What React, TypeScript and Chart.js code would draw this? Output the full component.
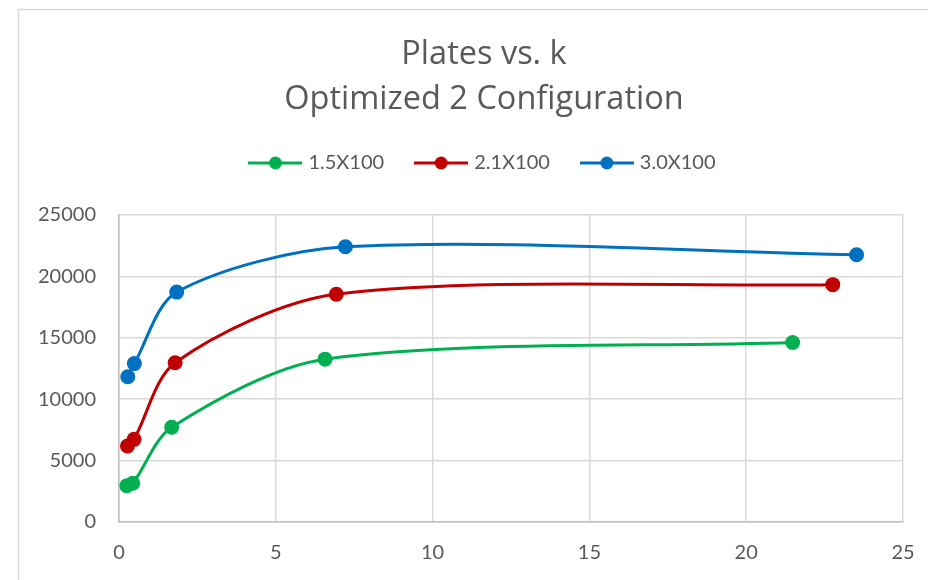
import React, { useEffect, useRef } from "react";
import { Chart, registerables } from "chart.js";

Chart.register(...registerables);

const seriesNames = ["1.5X100", "2.1X100", "3.0X100"];
const seriesColors = ["#00B050", "#C00000", "#0070C0"];

const k15 = [0.25, 0.44, 1.68, 6.57, 21.48];
const plates15 = [2950, 3150, 7710, 13260, 14620];
const k21 = [0.27, 0.48, 1.79, 6.93, 22.76];
const plates21 = [6190, 6730, 12970, 18550, 19330];
const k30 = [0.28, 0.49, 1.84, 7.22, 23.52];
const plates30 = [11830, 12900, 18720, 22410, 21760];

const titleLines = ["Plates vs. k", "Optimized 2 Configuration"];
const xTicksMax = 25;
const yTicksMax = 25000;

const FONT = "Lato";
const TITLE_FONT = "Open Sans";
const TEXT = "#595959";
const CANVAS_W = 968;
const CANVAS_H = 580;

function legendImage(color: string) {
  const c = document.createElement("canvas");
  c.width = 54;
  c.height = 16;
  const ctx = c.getContext("2d")!;
  ctx.strokeStyle = color;
  ctx.lineWidth = 3;
  ctx.beginPath();
  ctx.moveTo(0, 8);
  ctx.lineTo(54, 8);
  ctx.stroke();
  ctx.fillStyle = color;
  ctx.beginPath();
  ctx.arc(27, 8, 6.5, 0, Math.PI * 2);
  ctx.fill();
  return c;
}

export default function App() {
  const ref = useRef<HTMLCanvasElement>(null);
  useEffect(() => {
    const xs = [k15, k21, k30];
    const ys = [plates15, plates21, plates30];
    const images = seriesColors.map(legendImage);
    const frame = {
      id: "frame",
      beforeDraw(chart: any) {
        const ctx = chart.ctx;
        ctx.save();
        ctx.fillStyle = "#fff";
        ctx.fillRect(0, 0, chart.width, chart.height);
        ctx.strokeStyle = "#d9d9d9";
        ctx.lineWidth = 1.5;
        ctx.strokeRect(18.5, 9.5, 1200, 1200);
        ctx.restore();
      },
    };
    const legendGap = {
      id: "legendGap",
      beforeInit(chart: any) {
        const orig = chart.legend.fit;
        chart.legend.fit = function () {
          orig.bind(chart.legend)();
          this.height += 32;
        };
      },
    };
    const chart = new Chart(ref.current!, {
      type: "scatter",
      data: {
        datasets: seriesNames.map((name, i) => ({
          label: name,
          data: xs[i].map((x, j) => ({ x, y: ys[i][j] })),
          showLine: true,
          borderColor: seriesColors[i],
          backgroundColor: seriesColors[i],
          borderWidth: 3,
          pointRadius: 7.5,
          pointHoverRadius: 7.5,
          pointBorderWidth: 0,
          tension: 0.3,
        })),
      },
      options: {
        responsive: false,
        animation: false,
        layout: { padding: { left: 0, right: 0, top: 0, bottom: 0 } },
        plugins: {
          tooltip: { enabled: false },
          title: {
            display: true,
            text: titleLines,
            color: TEXT,
            font: { family: TITLE_FONT, size: 32.5, weight: "normal", lineHeight: 45 / 32.5 },
            padding: { top: 32, bottom: -3 },
          },
          legend: {
            position: "top",
            labels: {
              color: TEXT,
              font: { family: FONT, size: 20 },
              usePointStyle: true,
              pointStyleWidth: 46,
              padding: 34,
              generateLabels(chart: any) {
                const items = Chart.defaults.plugins.legend.labels.generateLabels(chart);
                return items.map((it: any, i: number) => ({ ...it, pointStyle: images[i] }));
              },
            },
          },
        },
        scales: {
          x: {
            type: "linear",
            min: 0,
            max: xTicksMax,
            ticks: { stepSize: 5, color: TEXT, font: { family: FONT, size: 20 }, padding: 19 },
            grid: { color: "#d9d9d9", lineWidth: 1.5, drawTicks: false },
            border: { color: "#bfbfbf", width: 1.5 },
            afterFit(scale: any) {
              scale.height = 58;
              scale.paddingLeft = 0;
              scale.paddingRight = 0;
            },
          },
          y: {
            type: "linear",
            min: 0,
            max: yTicksMax,
            ticks: {
              stepSize: 5000,
              color: TEXT,
              font: { family: FONT, size: 20 },
              padding: 23,
              callback: (v: any) => String(v),
            },
            grid: { color: "#d9d9d9", lineWidth: 1.5, drawTicks: false },
            border: { color: "#bfbfbf", width: 1.5 },
            afterFit(scale: any) {
              scale.width = 119;
            },
          },
          yRightSpace: {
            type: "linear",
            position: "right",
            min: 0,
            max: yTicksMax,
            ticks: { display: false },
            grid: { display: false, drawTicks: false },
            border: { display: false },
            afterFit(scale: any) {
              scale.width = CANVAS_W - 903;
              scale.paddingTop = 0;
              scale.paddingBottom = 0;
            },
          },
        },
      },
      plugins: [frame, legendGap],
    } as any);
    return () => chart.destroy();
  }, []);
  return (
    <div style={{ position: "fixed", left: 0, top: 0, width: 928, height: 580, overflow: "hidden" }}>
      <canvas ref={ref} width={CANVAS_W} height={CANVAS_H} />
    </div>
  );
}
